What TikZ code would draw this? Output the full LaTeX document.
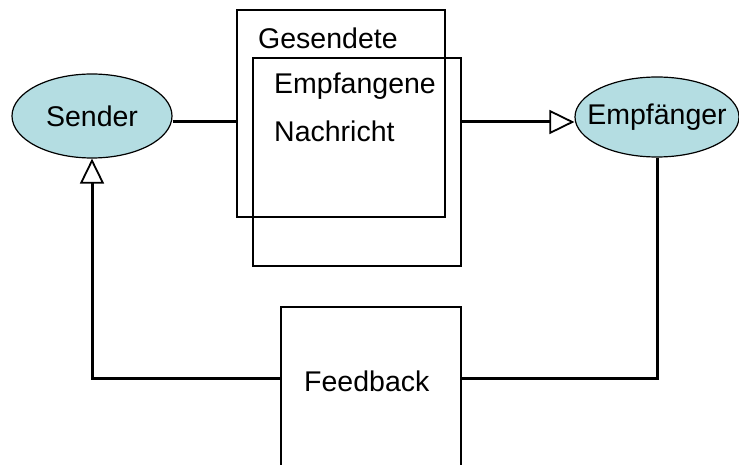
\documentclass[tikz,border=0pt]{standalone}
\usepackage{fontspec}
\setmainfont{Liberation Sans}
\usetikzlibrary{arrows.meta,shapes.geometric}
\definecolor{partner}{RGB}{180,221,226}
\tikzset{
  party/.style={ellipse, draw, line width=1.2pt, fill=partner, inner ysep=0pt, inner xsep=-14pt,
    minimum width=160pt, minimum height=84pt, font=\fontsize{28.5}{32}\selectfont},
  msgbox/.style={draw, line width=1.4pt, inner sep=0pt},
  label/.style={anchor=west, inner sep=0pt, font=\fontsize{28.5}{32}\selectfont},
  link/.style={line width=3pt},
  opentip/.style={-{Triangle[open, length=25pt, width=24pt, line width=1.8pt]}}
}
\begin{document}
\begin{tikzpicture}[x=1pt, y=-1pt]
  \useasboundingbox (0,0) rectangle (739,465);

  % communication partners
  \node[party] (sender) at (92,116) {Sender};
  \node[party, minimum width=164pt, minimum height=80pt] (empf) at (657,117) {Empfänger};

  % the two overlapping message frames
  \node[msgbox, minimum width=208pt, minimum height=207pt] (sent) at (341,113.5) {};
  \node[msgbox, minimum width=208pt, minimum height=208pt] (recv) at (357,162) {};
  \node[label] (gtxt) at (258,38) {Gesendete};
  \node[label] (etxt) at (274,86) {Empfangene};
  \node[label] (ntxt) at (274,131) {Nachricht};

  % feedback frame, running past the lower edge
  \node[msgbox, minimum width=180pt, minimum height=170pt] (feedback) at (371,392) {};
  \node[label] (ftxt) at (304,381) {Feedback};

  % connectors
  \coordinate (fbl) at (feedback.west |- 0,378);
  \coordinate (fbr) at (feedback.east |- 0,378);
  \coordinate (sin) at (sent.west |- 0,122);
  \coordinate (rout) at (recv.east |- 0,122);
  \coordinate (ein) at (empf.west |- 0,122);

  \draw[link] (sender.east |- 0,122) -- (sin);
  \draw[link, opentip] (rout) -- (ein);
  \draw[link] (empf.south) |- (fbr);
  \draw[link, opentip] (fbl) -| (sender.south);
\end{tikzpicture}
\end{document}
